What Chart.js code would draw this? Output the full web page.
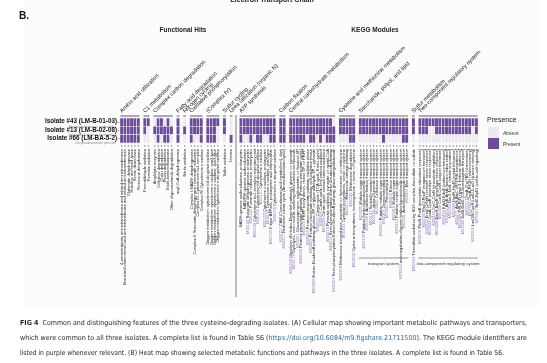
<!DOCTYPE html>
<html>
<head>
<meta charset="utf-8">
<script src="https://cdn.jsdelivr.net/npm/chart.js@4.4.1/dist/chart.umd.min.js"></script>
<style>
  html, body { margin: 0; padding: 0; background: #fff; overflow: hidden; }
  canvas { display: block; }
</style>
</head>
<body>
<canvas id="chart" width="547" height="363"></canvas>
<script>
// column groups (facets) and how many columns each has
const groupNames = [
  'Amino acid utilization', 'C1 metabolism', 'Complex carbon degradation', 'Fatty acid degradation',
  'Nitrogen cycling', 'Oxidative phosphorylation', '(Complex IV)', 'Sulfur cycling',
  'Urea utilization (organic N)',
  'ATP synthesis', 'Carbon fixation', 'Central carbohydrate metabolism',
  'Cysteine and methionine metabolism', 'Saccharide, polyol, and lipid', 'Sulfur metabolism',
  'Two-component regulatory system'
];
const groupSizes = [6, 2, 6, 1, 1, 4, 4, 1, 1, 11, 2, 14, 5, 15, 1, 18];
const gapAfter = [1, 1, 1, 1, 1, 1, 1, 1, 2, 1, 1, 1, 1, 1, 1, 0];

// KEGG module ids (purple) and names of every column
const moduleIds = [
  '', '', '', '', '', '',
  '', '',
  '', '', '', '', '', '',
  '', '', '', '', '', '', '', '', '', '', '', '', '', '',
  'M00144', 'M00145', 'M00149', 'M00150', 'M00151', 'M00153', 'M00154', 'M00155', 'M00156', 'M00157', 'M00417',
  'M00168', 'M00173',
  'M00001', 'M00002', 'M00003', 'M00004', 'M00005', 'M00006', 'M00007', 'M00008', 'M00009', 'M00010', 'M00011', 'M00307', 'M00308', 'M00633',
  'M00017', 'M00021', 'M00034', 'M00035', 'M00338',
  'M00196', 'M00197', 'M00199', 'M00200', 'M00201', 'M00206', 'M00207', 'M00209', 'M00210', 'M00212', 'M00216', 'M00221', 'M00491', 'M00602', 'M00670',
  'M00595',
  'M00434', 'M00444', 'M00445', 'M00448', 'M00449', 'M00450', 'M00452', 'M00454', 'M00456', 'M00471', 'M00499', 'M00500', 'M00501', 'M00504', 'M00506', 'M00507', 'M00513', 'M00520'
];
const columnNames = [
  '4-aminobutyrate aminotransferase and related aminotransferases', 'Branched-chain amino acid aminotransferase and related aminotransferases', 'Glutamate dehydrogenase', 'Histidine ammonia-lyase', 'Serine deaminase', 'Threonine dehydratase',
  'Formaldehyde oxidation', 'Formate oxidation',
  'Amylolytic enzymes', 'Cellulose degradation', 'Chitin degradation', 'Pectin degradation', 'Endo-beta-mannanase', 'Other oligosaccharide degradation',
  'acyl-CoA dehydrogenase',
  'Nitrite oxidation',
  'Complex I: NADH dehydrogenase', 'Complex II: Succinate dehydrogenase / fumarate reductase', 'Complex III: Cytochrome bc1 complex', 'Complex IV: Cytochrome c oxidase',
  'Oxygen metabolism: cytochrome bd ubiquinol oxidase', 'Oxygen metabolism: cytochrome c oxidase, caa3-type', 'Oxygen metabolism: cytochrome c oxidase, cbb3-type', 'Oxygen metabolism: cytochrome o ubiquinol oxidase',
  'Sulfur oxidation',
  'Urease',
  'NADH:quinone oxidoreductase, prokaryotes', 'NAD(P)H:quinone oxidoreductase', 'Succinate dehydrogenase, prokaryotes', 'Fumarate reductase, prokaryotes', 'Cytochrome bc1 complex respiratory unit', 'Cytochrome bd ubiquinol oxidase', 'Cytochrome c oxidase', 'Cytochrome c oxidase, prokaryotes', 'Cytochrome c oxidase, cbb3-type', 'F-type ATPase, prokaryotes and chloroplasts', 'Cytochrome o ubiquinol oxidase',
  'CAM (Crassulacean acid metabolism), dark', 'Reductive citrate cycle (Arnon-Buchanan cycle)',
  'Glycolysis (Embden-Meyerhof pathway), glucose => pyruvate', 'Glycolysis, core module involving three-carbon compounds', 'Gluconeogenesis, oxaloacetate => fructose-6P', 'Pentose phosphate pathway (Pentose phosphate cycle)', 'PRPP biosynthesis, ribose 5P => PRPP', 'Pentose phosphate pathway, oxidative phase', 'Pentose phosphate pathway, non-oxidative phase', 'Entner-Doudoroff pathway, glucose-6P => glyceraldehyde-3P + pyruvate', 'Citrate cycle (TCA cycle, Krebs cycle)', 'Citrate cycle, first carbon oxidation', 'Citrate cycle, second carbon oxidation', 'Pyruvate oxidation, pyruvate => acetyl-CoA', 'Semi-phosphorylative Entner-Doudoroff pathway', 'Semi-phosphorylative Entner-Doudoroff pathway, gluconate/galactonate',
  'Methionine biosynthesis, aspartate => homoserine => methionine', 'Cysteine biosynthesis, serine => cysteine', 'Methionine salvage pathway', 'Methionine degradation', 'Cysteine biosynthesis, homocysteine + serine => cysteine',
  'Multiple sugar transport system', 'Putative fructooligosaccharide transport system', 'L-Arabinose/lactose transport system', 'Sorbitol/mannitol transport system', 'alpha-Glucoside transport system', 'Cellobiose transport system', 'Putative multiple sugar transport system', 'Osmoprotectant transport system', 'Phospholipid transport system', 'Ribose transport system', 'Multiple sugar transport system', 'Putative simple sugar transport system', 'arabinogalactan oligomer/maltooligosaccharide transport system', 'Arabinosaccharide transport system', 'Mce transport system',
  'Thiosulfate oxidation by SOX complex, thiosulfate => sulfate',
  'PhoR-PhoB (phosphate starvation response)', 'PhoQ-PhoP (magnesium transport)', 'EnvZ-OmpR (osmotic stress response)', 'CpxA-CpxR (envelope stress response)', 'CreC-CreB (phosphate regulation)', 'BaeS-BaeR (envelope stress response)', 'CusS-CusR (copper tolerance)', 'KdpD-KdpE (potassium transport)', 'ArcB-ArcA (anoxic redox control)', 'NarX-NarL (nitrate respiration)', 'HydH-HydG (metal tolerance)', 'AtoS-AtoC (cP-PHB biosynthesis)', 'PilS-PilR (type 4 fimbriae synthesis)', 'DctB-DctD (C4-dicarboxylate transport)', 'CheA-CheYBV (chemotaxis)', 'ChpA-PilGH (chemosensory)', 'LuxQN/CqsS-LuxU-LuxO (quorum sensing)', 'RpfC-RpfG (cell-to-cell signaling)'
];

// presence (1) / absence (0) per isolate, same column order
const isolate43 = [
  1, 1, 1, 1, 1, 1,  1, 1,  0, 1, 1, 0, 1, 0,  1,  0,  1, 1, 1, 1,  1, 1, 1, 1,  1,  0,
  1, 1, 1, 1, 1, 1, 1, 1, 1, 1, 1,  1, 1,
  1, 1, 1, 1, 1, 1, 1, 1, 1, 1, 1, 1, 1, 0,  1, 1, 1, 1, 1,
  1, 1, 1, 1, 1, 1, 1, 1, 1, 1, 1, 1, 1, 1, 1,  1,
  1, 1, 1, 1, 1, 1, 1, 1, 1, 1, 1, 1, 1, 1, 1, 1, 1, 1
];
const isolate13 = [
  1, 1, 1, 1, 1, 1,  1, 0,  1, 1, 1, 1, 1, 1,  1,  1,  1, 1, 1, 1,  1, 1, 1, 0,  1,  0,
  1, 1, 1, 1, 1, 1, 1, 1, 1, 1, 1,  1, 1,
  1, 1, 1, 1, 1, 1, 1, 1, 1, 1, 1, 1, 1, 1,  1, 1, 1, 1, 1,
  1, 1, 1, 1, 1, 1, 1, 1, 1, 1, 1, 1, 1, 1, 1,  1,
  1, 1, 1, 0, 0, 1, 1, 1, 1, 1, 1, 1, 1, 1, 1, 1, 0, 1
];
const isolate66 = [
  1, 1, 1, 1, 1, 1,  0, 0,  0, 1, 0, 1, 1, 0,  1,  0,  1, 0, 0, 1,  1, 1, 1, 0,  0,  1,
  1, 0, 0, 1, 0, 1, 1, 0, 0, 1, 1,  1, 1,
  1, 1, 1, 1, 1, 0, 1, 1, 0, 1, 0, 1, 1, 1,  0, 0, 0, 1, 1,
  0, 0, 0, 0, 0, 0, 0, 1, 0, 0, 0, 0, 0, 1, 1,  0,
  0, 0, 0, 0, 0, 0, 0, 0, 0, 0, 0, 0, 0, 0, 0, 0, 0, 0
];

const isolateNames = ['Isolate #43 (LM-B-01-03)', 'Isolate #13 (LM-B-02-08)', 'Isolate #66 (LM-BA-5-2)'];
const isolateSpecies = ['Stenotrophomonas maltophilia', 'Stenotrophomonas bentonitica', 'Chryseobacterium piscium'];
const legendLabels = ['Absent', 'Present'];

const PURPLE = '#6b4c9d';
const LIGHT = '#eceaf0';
const FONT = '"Liberation Sans", Arial, sans-serif';

// lay the columns out on a category axis, with empty categories as gaps
const categories = [];
const colIndex = [];          // category index of every column
const groupSpans = [];        // [first, last] category index of every group
let k = 0;
groupSizes.forEach((n, g) => {
  const first = categories.length;
  for (let i = 0; i < n; i++) {
    colIndex.push(categories.length);
    categories.push(moduleIds[k] + ' ' + columnNames[k]);
    k++;
  }
  groupSpans.push([first, categories.length - 1]);
  for (let s = 0; s < gapAfter[g]; s++) categories.push('');
});

function spread(values) {
  const out = categories.map(() => null);
  values.forEach((v, i) => { out[colIndex[i]] = 1; });
  return out;
}
function cellColor(values) {
  const byCat = categories.map(() => 0);
  values.forEach((v, i) => { byCat[colIndex[i]] = v; });
  return ctx => byCat[ctx.dataIndex] ? PURPLE : LIGHT;
}

function fitText(c, parts, x, y, width) {
  let total = 0;
  parts.forEach(p => { c.font = p.font; total += c.measureText(p.text).width; });
  const sx = width ? width / total : 1;
  c.save();
  c.translate(x, y);
  c.scale(sx, 1);
  let cx = 0;
  parts.forEach(p => {
    c.font = p.font;
    c.fillStyle = p.color || '#231f20';
    c.fillText(p.text, cx, 0);
    cx += c.measureText(p.text).width;
  });
  c.restore();
}

const background = {
  id: 'background',
  beforeDraw(chart) {
    const c = chart.ctx;
    c.save();
    c.fillStyle = '#ffffff';
    c.fillRect(0, 0, chart.width, chart.height);
    c.fillStyle = '#fcfcfc';
    c.fillRect(24, 0, 516, 306);
    c.restore();
  }
};

const annotate = {
  id: 'annotate',
  afterDraw(chart) {
    const c = chart.ctx, xs = chart.scales.x, ys = chart.scales.y;
    const step = xs.getPixelForValue(1) - xs.getPixelForValue(0);
    const top = ys.getPixelForValue(3), bottom = ys.getPixelForValue(0);
    c.save();
    c.textBaseline = 'alphabetic';

    // panel headings
    c.fillStyle = '#222';
    c.font = 'bold 7px ' + FONT;
    c.textAlign = 'center';
    c.fillText('Electron Transport Chain', 272, 2);
    c.font = 'bold 6.5px ' + FONT;
    c.fillText('Functional Hits', 183, 32);
    c.fillText('KEGG Modules', 375, 32);
    c.textAlign = 'left';
    c.font = 'bold 10px ' + FONT;
    c.fillStyle = '#111';
    c.fillText('B.', 19, 19);

    // group brackets and slanted titles
    groupSpans.forEach(([a, b], g) => {
      const x0 = xs.getPixelForValue(a) - step / 2;
      const x1 = xs.getPixelForValue(b) + step / 2;
      c.strokeStyle = g === 13 ? '#9a9a9a' : '#333';
      c.lineWidth = g === 13 ? 1.4 : 0.8;
      c.beginPath();
      c.moveTo(x0 + 0.3, top - 2);
      c.lineTo(x1 - 0.3, top - 2);
      c.stroke();
      c.save();
      c.translate(x0 + 2, top - 5);
      c.rotate(-Math.PI / 4);
      c.font = '5.6px ' + FONT;
      c.fillStyle = '#111';
      c.textAlign = 'left';
      c.fillText(groupNames[g], 0, 0);
      c.restore();
    });

    // separator between functional hits and KEGG modules
    const sep = (xs.getPixelForValue(groupSpans[8][1]) + xs.getPixelForValue(groupSpans[9][0])) / 2;
    c.strokeStyle = '#a0a0a0';
    c.lineWidth = 1.4;
    c.beginPath();
    c.moveTo(sep, top - 3);
    c.lineTo(sep, 297);
    c.stroke();

    // column ticks and vertical labels
    c.strokeStyle = '#555';
    c.lineWidth = 0.6;
    colIndex.forEach((ci, i) => {
      const x = xs.getPixelForValue(ci);
      c.beginPath();
      c.moveTo(x, bottom + 2);
      c.lineTo(x, bottom + 4);
      c.stroke();
      c.save();
      c.translate(x + 1.4, bottom + 6);
      c.rotate(-Math.PI / 2);
      c.font = '4px ' + FONT;
      const id = moduleIds[i] ? moduleIds[i] + ' ' : '';
      const wId = c.measureText(id).width;
      const wName = c.measureText(columnNames[i]).width;
      c.textAlign = 'left';
      c.fillStyle = '#8a72bb';
      c.fillText(id, -(wId + wName), 0);
      c.fillStyle = '#1a1a1a';
      c.fillText(columnNames[i], -wName, 0);
      c.restore();
    });

    // sub-brackets under the transport and two-component groups
    [[13, 'transport system'], [15, 'two-component regulatory system']].forEach(([g, txt]) => {
      const [a, b] = groupSpans[g];
      const x0 = xs.getPixelForValue(a) - step / 2;
      const x1 = xs.getPixelForValue(b) + step / 2;
      c.strokeStyle = '#8a8a8a';
      c.lineWidth = 0.9;
      c.beginPath();
      c.moveTo(x0, 258);
      c.lineTo(x1, 258);
      c.stroke();
      c.font = '4.2px ' + FONT;
      c.fillStyle = '#333';
      c.textAlign = 'center';
      c.fillText(txt, (x0 + x1) / 2, 265);
    });

    // row labels
    const left = chart.chartArea.left;
    isolateNames.forEach((name, r) => {
      const yc = ys.getPixelForValue(2.5 - r);
      c.textAlign = 'right';
      c.font = 'bold 6.3px ' + FONT;
      c.fillStyle = '#111';
      c.fillText(name, left - 3, yc + 1);
      c.font = '3.5px ' + FONT;
      c.fillStyle = '#8a8a8a';
      c.fillText(isolateSpecies[r], left - 4, yc + 5.5);
      c.strokeStyle = '#444';
      c.lineWidth = 0.5;
      c.beginPath();
      c.moveTo(left - 2.5, yc);
      c.lineTo(left - 0.5, yc);
      c.stroke();
    });

    // legend
    c.textAlign = 'left';
    c.font = '7px ' + FONT;
    c.fillStyle = '#222';
    c.fillText('Presence', 487, 122);
    [LIGHT, PURPLE].forEach((col, i) => {
      c.fillStyle = col;
      c.fillRect(488, 127 + i * 11, 11, 11);
      c.font = '5px ' + FONT;
      c.fillStyle = '#333';
      c.fillText(legendLabels[i], 503, 134.5 + i * 11);
    });

    // figure caption
    const reg = '6.9px "Liberation Sans Narrow", "DejaVu Sans Condensed", ' + FONT;
    const bold = 'bold ' + reg;
    fitText(c, [
      { text: 'FIG 4', font: bold },
      { text: '  Common and distinguishing features of the three cysteine-degrading isolates. (A) Cellular map showing important metabolic pathways and transporters,', font: reg }
    ], 20, 325, 507);
    fitText(c, [
      { text: 'which were common to all three isolates. A complete list is found in Table S6 (', font: reg },
      { text: 'https://doi.org/10.6084/m9.figshare.21711500', font: reg, color: '#2b6cb4' },
      { text: '). The KEGG module identifiers are', font: reg }
    ], 20, 340, 507);
    fitText(c, [
      { text: 'listed in purple whenever relevant. (B) Heat map showing selected metabolic functions and pathways in the three isolates. A complete list is found in Table S6.', font: reg }
    ], 20, 355, 484);
    c.restore();
  }
};

const ctx = document.getElementById('chart');
new Chart(ctx, {
  type: 'bar',
  data: {
    labels: categories,
    datasets: [
      { label: isolateNames[2], data: spread(isolate66), backgroundColor: cellColor(isolate66) },
      { label: isolateNames[1], data: spread(isolate13), backgroundColor: cellColor(isolate13) },
      { label: isolateNames[0], data: spread(isolate43), backgroundColor: cellColor(isolate43) }
    ]
  },
  options: {
    responsive: false,
    animation: false,
    layout: { padding: { left: 120, right: 69, top: 118, bottom: 220 } },
    datasets: {
      bar: {
        barPercentage: 1,
        categoryPercentage: 1,
        borderColor: '#ffffff',
        borderWidth: 0.5,
        borderSkipped: false
      }
    },
    scales: {
      x: { stacked: true, display: false, grid: { display: false } },
      y: { stacked: true, display: false, min: 0, max: 3, grid: { display: false } }
    },
    plugins: {
      legend: { display: false },
      tooltip: { enabled: false }
    }
  },
  plugins: [background, annotate]
});
</script>
</body>
</html>
